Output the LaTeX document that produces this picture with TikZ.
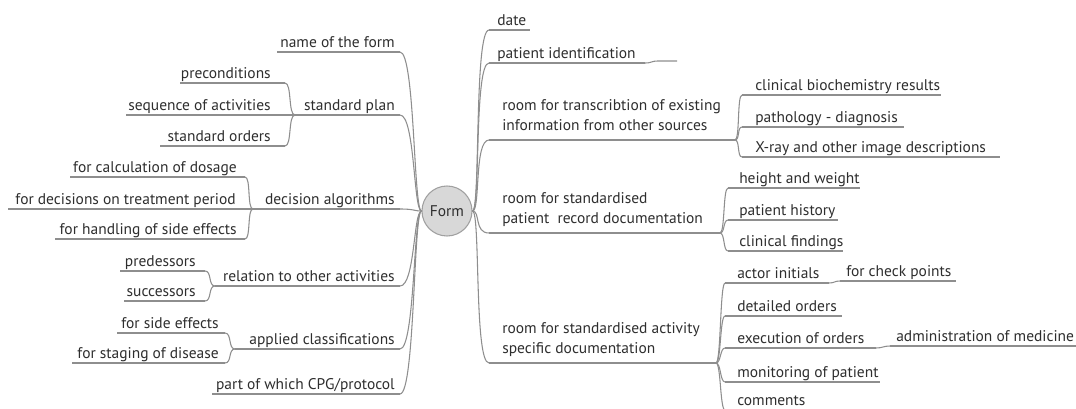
\documentclass[tikz,border=0pt]{standalone}
\usepackage{fontspec}
\setmainfont{PT Sans}
\definecolor{textc}{HTML}{2E2E2E}
\definecolor{linec}{HTML}{8E8E8E}
\definecolor{rootfill}{HTML}{D8D8D8}
\definecolor{rootline}{HTML}{A0A0A0}
\newcommand\topicL[6]{% name, x1, x2, y, text right x, text
  \coordinate (#1-l) at (#2,#4); \coordinate (#1-r) at (#3,#4);
  \draw[ul] (#1-l) -- (#1-r);
  \node[lt] (#1) at (#5,#4-5) {#6};}
\newcommand\topicR[6]{% name, x1, x2, y, text left x, text
  \coordinate (#1-l) at (#2,#4); \coordinate (#1-r) at (#3,#4);
  \draw[ul] (#1-l) -- (#1-r);
  \node[rt] (#1) at (#5,#4-5) {#6};}
\newcommand\topicRR[7]{% two-line: name, x1, x2, y, text left x, line1, line2
  \coordinate (#1-l) at (#2,#4); \coordinate (#1-r) at (#3,#4);
  \draw[ul] (#1-l) -- (#1-r);
  \node[rt, align=left] (#1) at (#5,#4-10) {#6\\#7};}
\begin{document}
\begin{tikzpicture}[x=0.75pt,y=-0.75pt,
  txt/.style={font=\fontsize{11.6pt}{15pt}\selectfont, text=textc, inner sep=0pt},
  lt/.style={txt, anchor=base east},
  rt/.style={txt, anchor=base west},
  ul/.style={draw=linec, line width=0.8pt},
  conn/.style={draw=linec, line width=0.8pt},
  rootnode/.style={circle, draw=rootline, fill=rootfill, line width=0.8pt, minimum size=37.5pt, inner sep=0pt, text=textc, font=\fontsize{11.6pt}{12pt}\selectfont}]
\useasboundingbox (0,0) rectangle (1076,408);
\clip (0,0) rectangle (1076,408);

\node[rootnode] (root) at (447,211) {Form};

% ---------- left side, first level
\topicL{nameform}{277}{400}{52}{395}{name of the form}
\topicL{stdplan}{295}{400}{115}{395}{standard plan}
\topicL{decalg}{253}{400}{209}{395}{decision algorithms}
\topicL{relation}{215}{400}{286}{395}{relation to other activities}
\topicL{applied}{235}{400}{349}{395}{applied classifications}
\topicL{partof}{212}{400}{394}{395}{part of which CPG/protocol}

\foreach \n in {nameform,stdplan,decalg,relation,applied,partof}
  \draw[conn] (\n-r) .. controls +(15,0) and +(-8,0) .. (root.west);

% ---------- left side, second level
\topicL{precond}{180}{285}{83}{271}{preconditions}
\topicL{seqact}{126}{285}{115}{271}{sequence of activities}
\topicL{stdord}{160}{285}{146}{271}{standard orders}
\foreach \n in {precond,seqact,stdord}
  \draw[conn] (\n-r) .. controls +(7,0) and +(-7,0) .. (stdplan-l);

\topicL{calcdos}{70}{245}{177}{237}{for calculation of dosage}
\topicL{decper}{8}{245}{209}{236}{for decisions on treatment period}
\topicL{handling}{55}{245}{239}{237}{for handling of side effects}
\foreach \n in {calcdos,decper,handling}
  \draw[conn] (\n-r) .. controls +(6,0) and +(-6,0) .. (decalg-l);

\topicL{predes}{120}{205}{271}{196}{predessors}
\topicL{succ}{124}{205}{301}{196}{successors}
\foreach \n in {predes,succ}
  \draw[conn] (\n-r) .. controls +(7,0) and +(-7,0) .. (relation-l);

\topicL{sideeff}{117}{225}{333}{219}{for side effects}
\topicL{staging}{72}{225}{363}{219}{for staging of disease}
\foreach \n in {sideeff,staging}
  \draw[conn] (\n-r) .. controls +(7,0) and +(-7,0) .. (applied-l);

% ---------- right side, first level
\topicR{date}{489}{530}{30}{497}{date}
\topicR{patid}{489}{645}{63}{497}{patient identification}
\coordinate (patid-x1) at (658,61);
\coordinate (patid-x2) at (677,61);
\draw[conn] (patid-r) .. controls +(7,0) and +(-7,0) .. (patid-x1) -- (patid-x2);
\topicRR{transcr}{489}{735}{140}{502}{room for transcribtion of existing}{information from other sources}
\topicRR{patrec}{489}{720}{233}{502}{room for standardised}{patient~ record documentation}
\topicRR{activity}{489}{716}{363}{502}{room for standardised activity}{specific documentation}

\foreach \n in {date,patid,transcr,patrec,activity}
  \draw[conn] (root.east) .. controls +(8,0) and +(-15,0) .. (\n-l);

% ---------- right side, second level
\topicR{clinbio}{742}{941}{95}{755}{clinical biochemistry results}
\topicR{patho}{742}{904}{127}{755}{pathology - diagnosis}
\topicR{xray}{742}{1000}{157}{755}{X-ray and other image descriptions}
\foreach \n in {clinbio,patho,xray}
  \draw[conn] (transcr-r) .. controls +(5,0) and +(-5,0) .. (\n-l);

\topicR{height}{728}{860}{188}{739}{height and weight}
\topicR{history}{728}{838}{220}{739}{patient history}
\topicR{findings}{728}{843}{251}{739}{clinical findings}
\foreach \n in {height,history,findings}
  \draw[conn] (patrec-r) .. controls +(5,0) and +(-5,0) .. (\n-l);

\topicR{actor}{725}{829}{283}{737}{actor initials}
\topicR{detailed}{725}{842}{316}{737}{detailed orders}
\topicR{execution}{725}{876}{348}{737}{execution of orders}
\topicR{monitoring}{725}{880}{382}{737}{monitoring of patient}
\topicR{comments}{725}{810}{410}{737}{comments}
\foreach \n in {actor,detailed,execution,monitoring,comments}
  \draw[conn] (activity-r) .. controls +(5,0) and +(-5,0) .. (\n-l);

% ---------- third level
\topicR{checkpts}{840}{956}{281}{846}{for check points}
\draw[conn] (actor-r) .. controls +(6,0) and +(-6,0) .. (checkpts-l);
\topicR{admin}{890}{1076}{346}{896}{administration of medicine}
\draw[conn] (execution-r) .. controls +(7,0) and +(-7,0) .. (admin-l);
\end{tikzpicture}
\end{document}
